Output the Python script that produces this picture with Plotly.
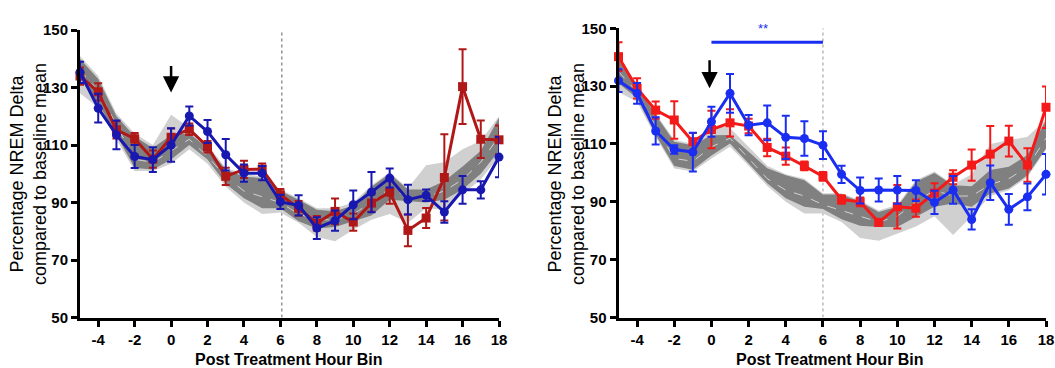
import plotly.graph_objects as go

# ---------------- data ----------------
hours = list(range(-5, 19))

# Left panel
L_red = [134, 128.5, 115.3, 112.2, 105.1, 112.7, 115.5, 109.4, 99.1, 101.5, 101.6, 92.7, 88.0,
         82.8, 86.9, 83.2, 89.8, 93.6, 80.3, 84.6, 98.7, 130.3, 112.0, 111.8]
L_red_err = [3, 3, 3, 2, 3, 3, 2, 2, 3, 3, 2, 2, 2.5, 2.5, 4.5, 3, 3, 4, 5.5, 3.5, 15, 13, 6.5, 5]
L_blue = [135.3, 122.8, 113.5, 106.0, 104.9, 110.0, 120.1, 114.7, 106.6, 100.2, 100.2, 90.2, 89.0,
          81.1, 83.7, 89.2, 93.6, 98.5, 91.0, 92.5, 86.7, 94.4, 94.4, 105.8]
L_blue_err = [3.7, 5, 5, 4, 4.3, 5.8, 3.3, 4, 5.5, 3, 2.5, 2.5, 3.5, 3.8, 3.5, 5, 7, 3.3, 5.2, 2,
              3.7, 4.8, 3, 7]
L_light_up = [141, 134, 121, 114, 110, 120.5, 116, 110, 102, 100, 99, 94.5, 91.5, 88, 88, 90, 96,
              100.5, 95, 103, 104, 108.5, 111.5, 120]
L_light_lo = [128, 123, 112, 101, 101, 103.5, 108.5, 103.5, 95.5, 90, 86, 86.5, 83, 78, 76.5,
              80.5, 84, 86, 83, 88, 87.5, 93, 98, 106]
L_dark_up = [140, 133, 120, 113, 109, 113.5, 114, 109, 101.5, 99, 98.5, 94, 91, 87.5, 87, 89,
             95.5, 100, 94.5, 94.5, 97.5, 102.5, 108, 119.5]
L_dark_lo = [133, 124.5, 113.5, 102, 101.5, 105, 110, 105, 96.5, 91.5, 88, 88, 83.5, 81, 81.5,
             83.5, 85.5, 91, 90.5, 90, 91, 94.5, 100, 108]
L_ctrl = [136, 129, 117, 105, 104, 108, 112, 106, 99, 94, 92, 90, 86, 84, 84, 86, 90, 95, 92, 92,
          94, 98, 104, 113]

# Right panel
R_red = [140.2, 129.2, 121.7, 118.3, 110.8, 115.0, 117.3, 116.2, 108.8, 105.8, 102.4, 98.8, 90.8,
         90.0, 82.9, 88.3, 87.8, 93.0, 98.5, 102.7, 106.5, 111.0, 102.7, 122.7]
R_red_err = [5, 3.5, 3, 6.5, 3, 6.5, 4.7, 2.5, 3, 3, 1.5, 1.5, 1.5, 1.5, 1.2, 7.5, 3, 3.4, 2.4,
             5.4, 9.7, 5.3, 5.8, 7.2]
R_blue = [131.9, 127.5, 114.5, 108.1, 107.2, 117.7, 127.5, 116.5, 117.3, 112.3, 111.9, 109.6,
          99.5, 93.9, 94.1, 94.1, 93.9, 89.8, 94.1, 83.9, 96.6, 87.4, 91.7, 99.5]
R_blue_err = [3.9, 3.6, 4.7, 1.5, 6.7, 5.2, 6.7, 3.5, 6, 7.5, 6, 4.8, 3, 4.5, 4, 4.8, 3.6, 4,
              4.8, 3.5, 6, 5.3, 4.6, 7]
R_light_up = [139.5, 131, 120.5, 111.5, 110, 116.5, 115.5, 109, 102.5, 99.5, 98, 93, 93, 90.5,
              87, 89, 97.5, 100.5, 96, 99.5, 110, 111.3, 112.5, 118.5]
R_light_lo = [128, 124.5, 112.5, 101.5, 100.5, 105, 109, 102.5, 95.5, 90, 86, 86, 83, 77.5, 76.5,
              79, 81.5, 85, 78.5, 85, 92, 94, 98.5, 108]
R_dark_up = [139, 130.4, 120, 110.8, 109.6, 113, 113.1, 107.3, 101.6, 99.2, 97.5, 92.5, 92.5, 90,
             86.5, 88.3, 96.9, 100, 95.7, 95.4, 101, 102.1, 106.2, 118.3]
R_dark_lo = [131, 125.8, 113.1, 102.4, 101.1, 106, 110.2, 103.3, 96.4, 91.2, 88.3, 87.5, 84, 81.7,
             81.3, 81.3, 84.8, 88.3, 89.4, 88.3, 92.9, 94.6, 99.2, 108.4]
R_ctrl = [135, 128, 116, 105, 104, 109, 112, 105, 98, 94, 92, 89, 87, 85, 83, 85, 90, 94, 92, 92,
          96, 98, 102, 112]

x_ticks = list(range(-4, 19, 2))
x_ticktext = [str(v) for v in x_ticks]  # plain hyphen minus
y_ticks = [50, 70, 90, 110, 130, 150]

# ---------------- figure ----------------
fig = go.Figure()

LIGHT = "rgb(208,208,208)"
DARK = "rgb(128,128,128)"


def add_panel(xa, ya, light_up, light_lo, dark_up, dark_lo, ctrl, red, red_err, blue, blue_err,
              red_col, blue_col):
    common = dict(xaxis=xa, yaxis=ya, showlegend=False, hoverinfo="skip")
    fig.add_trace(go.Scatter(x=hours, y=light_up, mode="lines", line=dict(width=0, color=LIGHT),
                             **common))
    fig.add_trace(go.Scatter(x=hours, y=light_lo, mode="lines", line=dict(width=0, color=LIGHT),
                             fill="tonexty", fillcolor=LIGHT, **common))
    fig.add_trace(go.Scatter(x=hours, y=dark_up, mode="lines", line=dict(width=0, color=DARK),
                             **common))
    fig.add_trace(go.Scatter(x=hours, y=dark_lo, mode="lines", line=dict(width=0, color=DARK),
                             fill="tonexty", fillcolor=DARK, **common))
    fig.add_trace(go.Scatter(x=hours, y=ctrl, mode="lines",
                             line=dict(width=1, color="rgba(230,230,230,0.8)", dash="dash"),
                             **common))
    fig.add_trace(go.Scatter(x=hours, y=red, mode="lines+markers", cliponaxis=False,
                             line=dict(width=3, color=red_col),
                             marker=dict(symbol="square", size=9, color=red_col),
                             error_y=dict(type="data", array=red_err, color=red_col,
                                          thickness=2, width=4),
                             **common))
    fig.add_trace(go.Scatter(x=hours, y=blue, mode="lines+markers", cliponaxis=False,
                             line=dict(width=3, color=blue_col),
                             marker=dict(symbol="circle", size=9, color=blue_col),
                             error_y=dict(type="data", array=blue_err, color=blue_col,
                                          thickness=2, width=4),
                             **common))


add_panel("x", "y", L_light_up, L_light_lo, L_dark_up, L_dark_lo, L_ctrl,
          L_red, L_red_err, L_blue, L_blue_err, "#B01818", "#1818B0")
add_panel("x2", "y2", R_light_up, R_light_lo, R_dark_up, R_dark_lo, R_ctrl,
          R_red, R_red_err, R_blue, R_blue_err, "#F41A1A", "#1A2EF2")

W, H = 1055, 368
tickfont = dict(family="Liberation Sans, Arial", size=15, color="black", weight="bold")
axis_common = dict(showline=True, linewidth=3, linecolor="black", ticks="outside", ticklen=6,
                   tickwidth=2.5, tickcolor="black", showgrid=False, zeroline=False,
                   tickfont=tickfont, fixedrange=True, automargin=False)

fig.update_layout(
    template="none",
    width=W, height=H, autosize=False,
    margin=dict(l=0, r=0, t=0, b=0, pad=0),
    paper_bgcolor="white", plot_bgcolor="white",
    xaxis=dict(domain=[80 / W, 499 / W], range=[-5, 18], tickvals=x_ticks,
               ticktext=x_ticktext, anchor="y", **axis_common),
    yaxis=dict(domain=[1 - 317.5 / H, 1 - 30 / H], range=[50, 150], tickvals=y_ticks,
               anchor="x", **axis_common),
    xaxis2=dict(domain=[618.5 / W, 1046 / W], range=[-5, 18], tickvals=x_ticks,
                ticktext=x_ticktext, anchor="y2", **axis_common),
    yaxis2=dict(domain=[1 - 317.5 / H, 1 - 28.3 / H], range=[50, 150], tickvals=y_ticks,
                anchor="x2", **axis_common),
)

# dotted vertical lines
fig.add_shape(type="line", xref="x", yref="y", x0=6.08, x1=6.08, y0=50, y1=150,
              line=dict(color="rgb(90,90,90)", width=1, dash="dot"), layer="below")
fig.add_shape(type="line", xref="x2", yref="y2", x0=6, x1=6, y0=50, y1=150,
              line=dict(color="rgb(150,150,150)", width=1, dash="dot"), layer="below")

# significance bar on right
fig.add_shape(type="line", xref="x2", yref="y2", x0=0, x1=6, y0=145.2, y1=145.2,
              line=dict(color="#1A2EF2", width=3))
fig.add_annotation(xref="x2", yref="y2", x=2.75, y=150, text="**", showarrow=False,
                   font=dict(family="Liberation Sans, Arial", size=13, color="#1A2EF2"),
                   yanchor="middle")

# arrows
fig.add_annotation(xref="x", yref="y", axref="x", ayref="y", x=0, y=128.3, ax=0, ay=138,
                   showarrow=True, arrowhead=2, arrowsize=1.3, arrowwidth=2.5,
                   arrowcolor="black", text="")
fig.add_annotation(xref="x2", yref="y2", axref="x2", ayref="y2", x=-0.1, y=129.3, ax=-0.1,
                   ay=139.5, showarrow=True, arrowhead=2, arrowsize=1.3, arrowwidth=2.5,
                   arrowcolor="black", text="")

# axis titles
ytitle = "Percentage NREM Delta<br>compared to baseline mean"
for xc in (28, 566):
    fig.add_annotation(xref="paper", yref="paper", x=xc / W, y=1 - 174 / H, text=ytitle,
                       showarrow=False, textangle=-90, xanchor="center", yanchor="middle",
                       font=dict(family="Liberation Sans, Arial", size=18, color="black"))
for xc in (289, 830):
    fig.add_annotation(xref="paper", yref="paper", x=xc / W, y=1 - 359 / H,
                       text="Post Treatment Hour Bin", showarrow=False,
                       xanchor="center", yanchor="middle",
                       font=dict(family="Liberation Sans, Arial", size=16, color="black",
                                 weight="bold"))

fig.write_html("out.html")
